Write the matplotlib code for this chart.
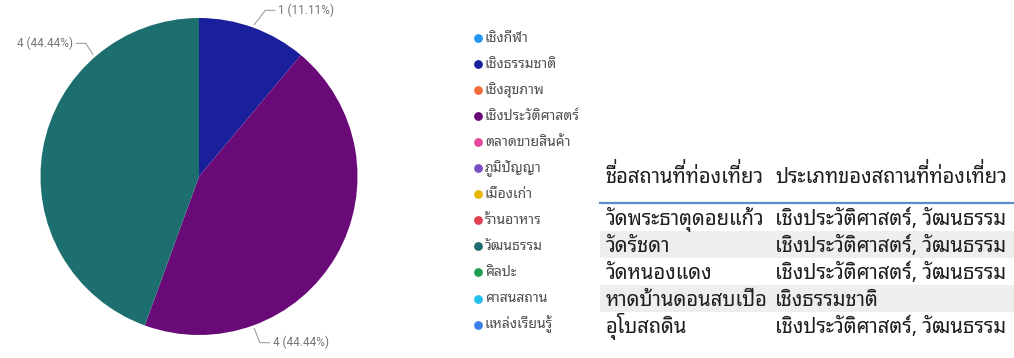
import numpy as np
import matplotlib
matplotlib.use("Agg")
import matplotlib.pyplot as plt
from matplotlib.font_manager import FontProperties

THAI = ["Noto Sans Thai Looped", "Noto Sans", "DejaVu Sans"]
plt.rcParams["font.family"] = THAI

# ── data ──
categories = ["เชิงกีฬา", "เชิงธรรมชาติ", "เชิงสุขภาพ", "เชิงประวัติศาสตร์",
              "ตลาดขายสินค้า", "ภูมิปัญญา", "เมืองเก่า", "ร้านอาหาร",
              "วัฒนธรรม", "ศิลปะ", "ศาสนสถาน", "แหล่งเรียนรู้"]
counts = [0, 1, 0, 4, 0, 0, 0, 0, 4, 0, 0, 0]
colors = ["#2196f3", "#1a1f9c", "#f26b3a", "#6a0a78", "#e3489a", "#7b4fc4",
          "#e6b800", "#e0404f", "#1d6f6f", "#1fa04f", "#22c0ee", "#3d7fe8"]

table_header = ["ชื่อสถานที่ท่องเที่ยว", "ประเภทของสถานที่ท่องเที่ยว"]
place_names = ["วัดพระธาตุดอยแก้ว", "วัดรัชดา", "วัดหนองแดง", "หาดบ้านดอนสบเปือ", "อุโบสถดิน"]
place_types = ["เชิงประวัติศาสตร์, วัฒนธรรม", "เชิงประวัติศาสตร์, วัฒนธรรม",
               "เชิงประวัติศาสตร์, วัฒนธรรม", "เชิงธรรมชาติ", "เชิงประวัติศาสตร์, วัฒนธรรม"]

W, H = 1014, 358
fig = plt.figure(figsize=(W / 100, H / 100), dpi=100)
fig.patch.set_facecolor("white")

# ── pie ──
cx, cy, r = 199, 176.5, 158.5
ax = fig.add_axes([(cx - r) / W, (H - cy - r) / H, 2 * r / W, 2 * r / H])
vals = [c for c in counts if c > 0]
cols = [colors[i] for i, c in enumerate(counts) if c > 0]
total = sum(vals)
ax.pie(vals, colors=cols, startangle=90, counterclock=False, radius=1,
       wedgeprops=dict(linewidth=0))
ax.set_xlim(-1, 1); ax.set_ylim(-1, 1)
ax.set_aspect("auto")
ax.axis("off")

# leader lines + labels (angle clockwise from top where the line leaves the pie)
label_angles = [20, 160, 319]
elbows = [(0.07, 0.09, 1), (0.035, -0.09, 1), (-0.045, 0.07, -1)]
for v, ang, (dx, dy, side) in zip(vals, label_angles, elbows):
    a = np.deg2rad(ang)
    x0, y0 = 1.02 * np.sin(a), 1.02 * np.cos(a)
    x1, y1 = x0 + dx, y0 + dy
    x2 = x1 + side * 0.06
    ax.plot([x0, x1, x2], [y0, y1, y1], color="#a0a0a0", lw=0.8, clip_on=False)
    ax.text(x2 + side * 0.02, y1, f"{v} ({v / total * 100:.2f}%)",
            ha="left" if side > 0 else "right", va="center",
            fontsize=8.5, color="#757575", family=["Roboto", "DejaVu Sans"])

# ── overlay in pixel coords for legend and table ──
ov = fig.add_axes([0, 0, 1, 1], facecolor="none")
ov.set_xlim(0, W); ov.set_ylim(H, 0)
ov.axis("off")
renderer = fig.canvas.get_renderer()

# matplotlib has no Thai shaping: a tone mark after an upper vowel lands on the
# vowel, so those marks are drawn as separate text a bit higher
UPPER_VOWELS = set("ัิีึื็")
TONES = set("่้๊๋์")


def thai_text(x, y, s, prop, color):
    main, marks = [], []
    for ch in s:
        if ch in TONES and main and main[-1] in UPPER_VOWELS:
            marks.append(("".join(main), ch))
        else:
            main.append(ch)
    ov.text(x, y, "".join(main), fontproperties=prop, color=color, va="baseline")
    ref = renderer.get_text_width_height_descent("||", prop, ismath=False)[0]
    shift = 0.24 * prop.get_size_in_points() * 100 / 72
    for prefix, m in marks:
        p = renderer.get_text_width_height_descent("|" + prefix + "|", prop, ismath=False)[0] - ref
        ov.text(x + p, y - shift, m + "\u200a", fontproperties=prop, color=color,
                va="baseline")


leg_prop = FontProperties(family=THAI, size=10)
leg_y0, leg_dy = 37.5, 26.1
for i, (lab, col) in enumerate(zip(categories, colors)):
    y = leg_y0 + i * leg_dy
    ov.scatter([478], [y], s=40, color=col, zorder=3, linewidths=0)
    thai_text(485, y + 4, lab, leg_prop, "#505050")

# table
tab_prop = FontProperties(family=THAI, size=14.5, weight="medium")
col_x = [606, 775]
thai_text(col_x[0], 183, table_header[0], tab_prop, "#1e1e1e")
thai_text(col_x[1], 183, table_header[1], tab_prop, "#1e1e1e")
ov.plot([600, 1014], [202.8, 202.8], color="#5b8ec9", lw=1.6)
row_y0, row_h = 217.5, 27
for i, (n, t) in enumerate(zip(place_names, place_types)):
    y = row_y0 + i * row_h
    if i % 2 == 1:
        ov.add_patch(plt.Rectangle((600, y - row_h / 2), 414, row_h,
                                   facecolor="#eeeeee", edgecolor="none", zorder=0))
    thai_text(col_x[0], y + 7.5, n, tab_prop, "#1e1e1e")
    thai_text(col_x[1], y + 7.5, t, tab_prop, "#1e1e1e")

fig.savefig("out.png", dpi=100)
